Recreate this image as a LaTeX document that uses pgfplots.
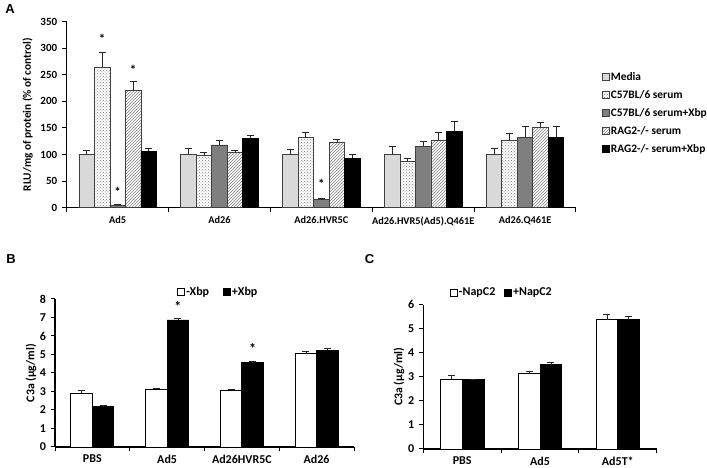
\documentclass[border=0pt]{standalone}
\usepackage{fontspec}
\setmainfont{Carlito}
\newfontfamily\arialf{Liberation Sans}
\usepackage{pgfplots}
\pgfplotsset{compat=1.18}
\usetikzlibrary{patterns}
\definecolor{lgray}{HTML}{D9D9D9}
\definecolor{mgray}{HTML}{7F7F7F}
\definecolor{edge}{HTML}{404040}
\pgfplotsset{
  sqleg/.style={legend image code/.code={\draw[##1] (0pt,-3.5pt) rectangle (7pt,3.5pt);}},
  errs/.style={error bars/y dir=plus, error bars/y explicit,
     error bars/error bar style={line width=0.7pt, black!85},
     error bars/error mark options={rotate=90, mark size=3.5pt, line width=0.7pt, black!85}},
  base/.style={scale only axis, anchor=south west, axis lines*=left,
     axis line style={line width=1.1pt, black},
     tick align=outside, major tick length=4.5pt,
     xtick style={line width=1pt, black},
     ytick style={line width=1pt, black},
     /pgf/number format/assume math mode=true,
     xticklabels={},
     extra x tick style={major tick length=0pt, xtick style={draw=none}},
     legend cell align=left,
     clip=false}
}
\pgfplotstableread{
x y e
0.5 100 8
1.5 100 12
2.5 100 9
3.5 100 15
4.5 100 12
}\Amedia
\pgfplotstableread{
x y e
0.5 265 27
1.5 98 6
2.5 132 9
3.5 87 6
4.5 126 13
}\Acfs
\pgfplotstableread{
x y e
0.5 5 2
1.5 118 9
2.5 16 1
3.5 116 9
4.5 132 21
}\Acfx
\pgfplotstableread{
x y e
0.5 220 17
1.5 105 2
2.5 123 6
3.5 127 15
4.5 151 10
}\Arag
\pgfplotstableread{
x y e
0.5 106 5
1.5 131 5
2.5 93 7
3.5 143 19
4.5 133 21
}\Aragx
\pgfplotstableread{
x y e
0.5 2.90 0.15
1.5 3.13 0.05
2.5 3.08 0.05
3.5 5.05 0.10
}\Bminus
\pgfplotstableread{
x y e
0.5 2.17 0.10
1.5 6.87 0.07
2.5 4.55 0.07
3.5 5.22 0.12
}\Bplus
\pgfplotstableread{
x y e
0.5 2.90 0.17
1.5 3.15 0.06
2.5 5.38 0.20
}\Cminus
\pgfplotstableread{
x y e
0.5 2.88 0.02
1.5 3.50 0.10
2.5 5.38 0.12
}\Cplus
\begin{document}
\begin{tikzpicture}
\useasboundingbox (0,0) rectangle (707pt,468pt);
% Panel A
\begin{axis}[base,
  at={(66.7pt,260.3pt)}, width=509.3pt, height=186pt,
  xmin=0, xmax=5, ymin=0, ymax=350,
  ytick={0,50,...,350},
  xtick={0,...,5},
  extra x ticks={0.5,1.5,2.5,3.5,4.5},
  extra x tick labels={Ad5,Ad26,Ad26.HVR5C,Ad26.HVR5(Ad5).Q461E,Ad26.Q461E},
  yticklabel style={font=\bfseries\fontsize{11}{13}\selectfont, xshift=-1.5pt},
  xticklabel style={font=\bfseries\fontsize{10.3}{12}\selectfont, yshift=-5.5pt},
  ylabel={RLU/mg of protein (\% of control)},
  ylabel style={font=\bfseries\fontsize{11.3}{13}\selectfont, at={(axis description cs:-0.0766,0.5)}, anchor=center},
  ybar=0pt, bar width=15.5pt,
  legend style={draw=none, fill=none, inner sep=0pt, at={(axis description cs:1.05,0.728)}, anchor=north west,
    font=\bfseries\fontsize{11.4}{13}\selectfont, row sep=8.5pt, nodes={inner xsep=1.5pt, inner ysep=0pt}},
]
\addplot[sqleg, fill=lgray, draw=edge, line width=0.7pt, errs] table[x=x,y=y,y error=e] {\Amedia};
\addlegendentry{Media}
\addplot[sqleg, fill=white, draw=edge, line width=0.7pt, postaction={pattern=crosshatch dots, pattern color=gray}, errs] table[x=x,y=y,y error=e] {\Acfs};
\addlegendentry{C57BL/6 serum}
\addplot[sqleg, fill=mgray, draw=edge, line width=0.7pt, errs] table[x=x,y=y,y error=e] {\Acfx};
\addlegendentry{C57BL/6 serum+Xbp}
\addplot[sqleg, fill=white, draw=edge, line width=0.7pt, postaction={pattern=north east lines, pattern color=gray}, errs] table[x=x,y=y,y error=e] {\Arag};
\addlegendentry{RAG2-/- serum}
\addplot[sqleg, fill=black, draw=black, line width=0.7pt, errs] table[x=x,y=y,y error=e] {\Aragx};
\addlegendentry{RAG2-/- serum+Xbp}
\node[font=\bfseries\fontsize{13}{13}\selectfont] at (axis cs:0.348,318) {*};
\node[font=\bfseries\fontsize{13}{13}\selectfont] at (axis cs:0.5,30) {*};
\node[font=\bfseries\fontsize{13}{13}\selectfont] at (axis cs:0.652,259) {*};
\node[font=\bfseries\fontsize{13}{13}\selectfont] at (axis cs:2.5,44) {*};
\end{axis}
% Panel B
\begin{axis}[base,
  at={(55pt,21pt)}, width=299pt, height=148pt,
  xmin=0, xmax=4, ymin=0, ymax=8,
  ytick={0,...,8},
  xtick={0,...,4},
  extra x ticks={0.5,1.5,2.5,3.5},
  extra x tick labels={PBS,Ad5,Ad26HVR5C,Ad26},
  yticklabel style={font=\bfseries\fontsize{12}{14}\selectfont, xshift=-1pt},
  xticklabel style={font=\bfseries\fontsize{12}{14}\selectfont, yshift=-4.5pt},
  ylabel={C3a (µg/ml)},
  ylabel style={font=\bfseries\fontsize{11.8}{13}\selectfont, at={(axis description cs:-0.08,0.5)}, anchor=center},
  ybar=0pt, bar width=21.5pt,
  legend columns=2,
  legend style={draw=none, fill=none, inner sep=0pt, at={(axis description cs:0.545,1.049)}, anchor=center,
    font=\bfseries\fontsize{12}{14}\selectfont, nodes={inner xsep=1.5pt, inner ysep=0pt},
    /tikz/every even column/.append style={column sep=12pt}},
]
\addplot[sqleg, fill=white, draw=black, line width=0.8pt, errs] table[x=x,y=y,y error=e] {\Bminus};
\addlegendentry{-Xbp}
\addplot[sqleg, fill=black, draw=black, line width=0.8pt, errs] table[x=x,y=y,y error=e] {\Bplus};
\addlegendentry{+Xbp}
\node[font=\bfseries\fontsize{14}{14}\selectfont] at (axis cs:1.644,7.62) {*};
\node[font=\bfseries\fontsize{14}{14}\selectfont] at (axis cs:2.644,5.30) {*};
\end{axis}
% Panel C
\begin{axis}[base,
  at={(423.3pt,19pt)}, width=233.4pt, height=144.3pt,
  xmin=0, xmax=3, ymin=0, ymax=6,
  ytick={0,...,6},
  xtick={0,...,3},
  extra x ticks={0.5,1.5,2.5},
  extra x tick labels={PBS,Ad5,Ad5T*},
  yticklabel style={font=\bfseries\fontsize{12}{14}\selectfont, xshift=-1pt},
  xticklabel style={font=\bfseries\fontsize{12}{14}\selectfont, yshift=-4.5pt},
  ylabel={C3a (µg/ml)},
  ylabel style={font=\bfseries\fontsize{11.8}{13}\selectfont, at={(axis description cs:-0.104,0.5)}, anchor=center},
  ybar=0pt, bar width=21.7pt,
  legend columns=2,
  legend style={draw=none, fill=none, inner sep=0pt, at={(axis description cs:0.335,1.083)}, anchor=center,
    font=\bfseries\fontsize{12}{14}\selectfont, nodes={inner xsep=1.5pt, inner ysep=0pt},
    /tikz/every even column/.append style={column sep=7pt}},
]
\addplot[sqleg, fill=white, draw=black, line width=0.8pt, errs] table[x=x,y=y,y error=e] {\Cminus};
\addlegendentry{-NapC2}
\addplot[sqleg, fill=black, draw=black, line width=0.8pt, errs] table[x=x,y=y,y error=e] {\Cplus};
\addlegendentry{+NapC2}
\end{axis}
\node[font=\arialf\bfseries\fontsize{13}{13}\selectfont] at (10pt,459pt) {A};
\node[font=\arialf\bfseries\fontsize{13}{13}\selectfont] at (11pt,209pt) {B};
\node[font=\arialf\bfseries\fontsize{13}{13}\selectfont] at (369.5pt,209pt) {C};
\end{tikzpicture}
\end{document}
